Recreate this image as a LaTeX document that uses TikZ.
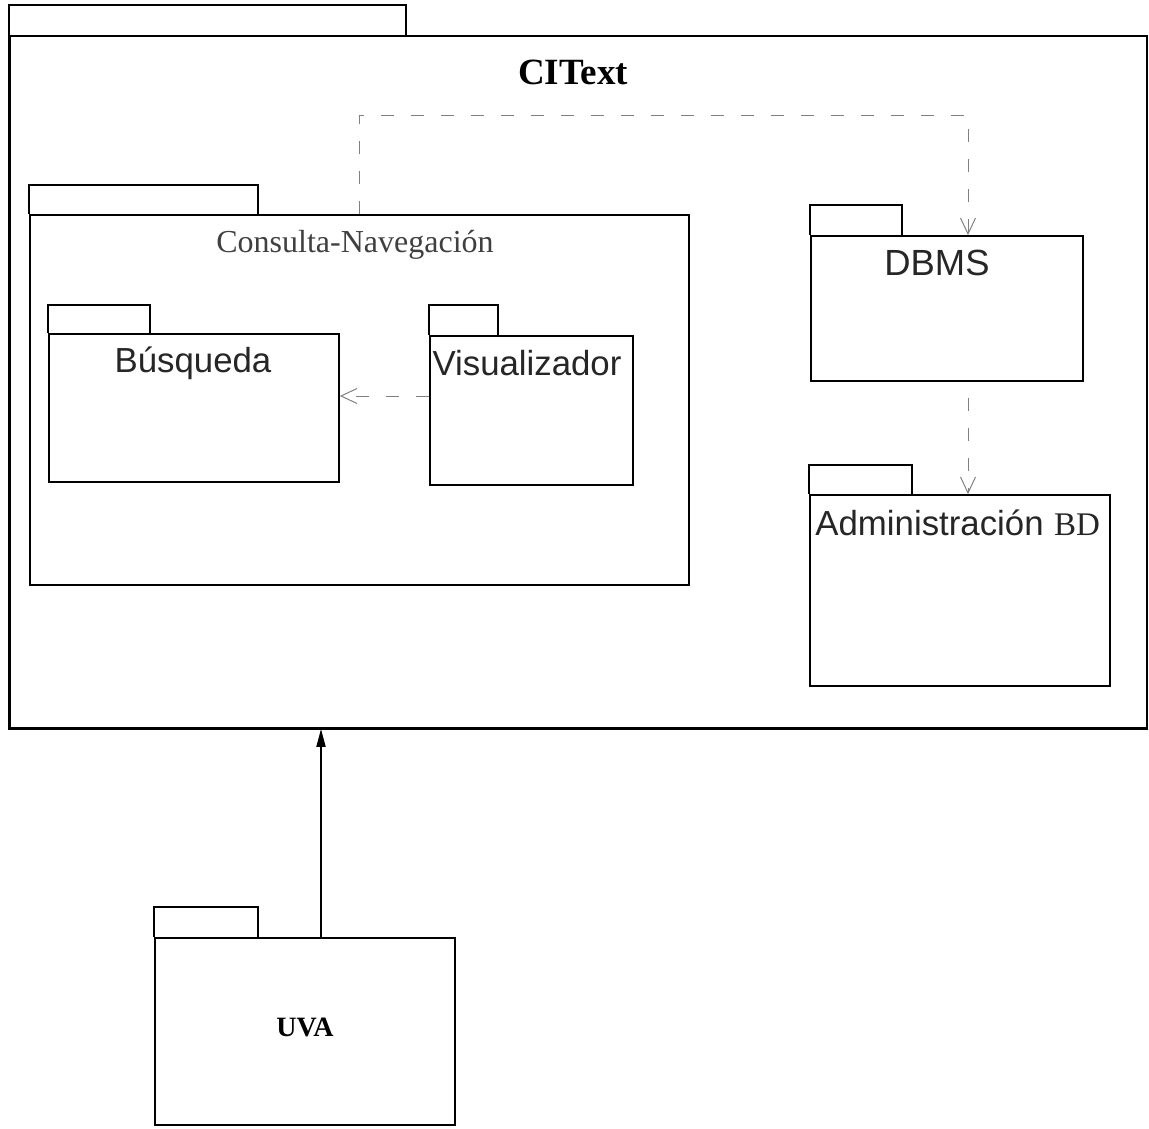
\documentclass[tikz,border=0pt]{standalone}
\usepackage{fontspec}
\setmainfont{Liberation Serif}
\setsansfont{Liberation Sans}
\usetikzlibrary{arrows.meta,fit}
\begin{document}
\begin{tikzpicture}[x=0.5pt,y=-0.5pt,
  pkg/.style={draw=black, line width=0.85pt, inner sep=0pt},
  pkgtab/.style={draw=black, line width=0.85pt},
  dep/.style={draw=black!50, line width=0.5pt, dash pattern=on 6.5pt off 8.5pt,
    -{Straight Barb[length=8pt,width=7.5pt]}},
  sanslbl/.style={font=\sffamily\fontsize{17.4}{20}\selectfont, text=black!85, inner sep=0pt},
]
\useasboundingbox (0,0) rectangle (1149,1128);

% outer package CIText
\node[pkg, line width=0.9pt, fit={(10,36) (1147,728)}] (citext) {};
\draw[pkgtab, line width=0.9pt] (citext.north west) -- ++(0,-30) -- ++(397,0) -- ++(0,30);
\draw[line width=1.4pt] (citext.north west) -- (citext.south west) -- (citext.south east);
\node[font=\bfseries\fontsize{18.5}{22}\selectfont, inner sep=0pt] (citextlbl) at (573,72) {CIText};

% Consulta-Navegación
\node[pkg, fit={(30,215) (689,585)}] (cn) {};
\draw[pkgtab] (cn.north west) -- ++(0,-29) -- ++(229,0) -- ++(0,29);
\node[font=\fontsize{16}{19}\selectfont, text=black!75, inner sep=0pt] (cnlbl) at (355,245) {Consulta-Navegación};

% Búsqueda
\node[pkg, fit={(49,334) (339,482)}] (bus) {};
\draw[pkgtab] (bus.north west) -- ++(0,-28) -- ++(102,0) -- ++(0,28);
\node[sanslbl] (buslbl) at (193,363) {Búsqueda};

% Visualizador
\node[pkg, fit={(430,336) (633,485)}] (vis) {};
\draw[pkgtab] (vis.north west) -- ++(0,-30) -- ++(69,0) -- ++(0,30);
\node[sanslbl] (vislbl) at (527,363) {Visualizador};

% DBMS
\node[pkg, fit={(811,236) (1083,381)}] (dbms) {};
\draw[pkgtab] (dbms.north west) -- ++(0,-30) -- ++(92,0) -- ++(0,30);
\node[sanslbl, font=\sffamily\fontsize{18.2}{20}\selectfont] (dbmslbl) at (937,263) {DBMS};

% Administración BD
\node[pkg, fit={(810,495) (1110,686)}] (adm) {};
\draw[pkgtab] (adm.north west) -- ++(0,-29) -- ++(103,0) -- ++(0,29);
\node[sanslbl, anchor=west] (admlbl) at (815,523)
  {Administración\hspace{0.3em}\rmfamily\fontsize{16.5}{19}\selectfont BD};

% UVA
\node[pkg, fit={(155,938) (455,1125)}] (uva) {};
\draw[pkgtab] (uva.north west) -- ++(0,-30) -- ++(104,0) -- ++(0,30);
\node[font=\bfseries\fontsize{14}{16}\selectfont, inner sep=0pt] (uvalbl) at (305,1027) {UVA};

% dependencies
\coordinate (b1) at (359,116);
\coordinate (b2) at (968,116);
\coordinate (bv) at (0,396);
\coordinate (up) at (321,0);
\draw[dep] (cn.north -| b1) -- (b1) -- (b2) -- (dbms.north -| b2);
\draw[dep, dash phase=7pt] (dbms.south -| b2) -- (adm.north -| b2);
\draw[dep] (vis.west |- bv) -- (bus.east |- bv);
\draw[line width=0.9pt, -{Triangle[length=9pt,width=4.5pt]}] (uva.north -| up) -- (citext.south -| up);
\end{tikzpicture}
\end{document}
